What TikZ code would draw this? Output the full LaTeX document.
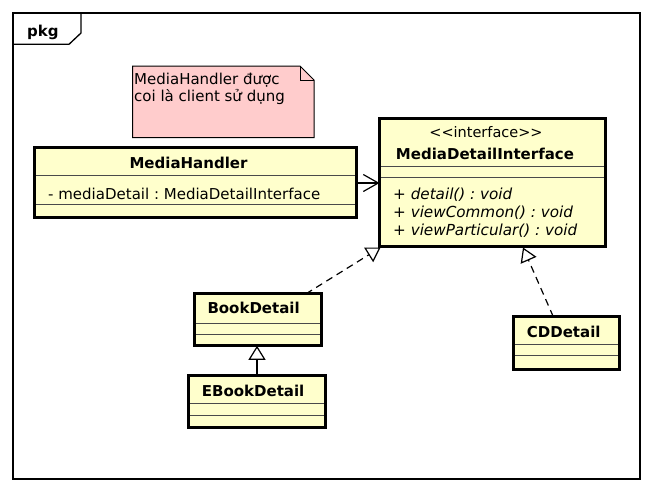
\documentclass[tikz,border=0pt]{standalone}
\usepackage{fontspec}
\setmainfont{DejaVu Sans}
\usetikzlibrary{arrows.meta,calc}
\definecolor{clsfill}{HTML}{FFFFCC}
\definecolor{notefill}{HTML}{FFCCCC}
\definecolor{seprule}{HTML}{4A4A4A}
\frenchspacing
\begin{document}
\begin{tikzpicture}[x=1pt,y=-1pt,
  cls/.style={draw=black,line width=3pt,fill=clsfill,inner sep=0pt,outer sep=0pt,rectangle},
  sepline/.style={draw=seprule,line width=1pt,shorten <=1.5pt,shorten >=1.5pt},
  txt/.style={inner sep=0pt,anchor=base west,font=\fontsize{15}{17}\selectfont},
  sttxt/.style={inner sep=0pt,anchor=base,font=\fontsize{14.5}{17}\selectfont},
  itxt/.style={txt,font=\fontsize{15.2}{17}\selectfont\itshape},
  btxt/.style={inner sep=0pt,anchor=base west,font=\fontsize{15}{18}\selectfont\bfseries},
  conn/.style={line width=1.2pt},
  realize/.style={conn,dash pattern=on 7pt off 5pt,-{Triangle[fill=white,length=14pt,width=17pt,line width=1.2pt]}},
  general/.style={conn,-{Triangle[fill=white,length=14pt,width=17pt,line width=1.2pt]}},
  assoc/.style={conn,-{Straight Barb[length=15pt,width=17pt,line width=1.2pt]}},
]
\useasboundingbox (0,0) rectangle (653,493);
\fill[white] (0,0) rectangle (653,493);

% package frame
\draw[line width=1.3pt] (13,13) rectangle (640,479);
\draw[line width=1.3pt] (13,13) -- (81,13) -- (81,33) -- (69,44.3) -- (13,44.3);
\node[btxt] (pkg) at (27,36) {pkg};

% note
\path[fill=notefill,draw=black,line width=1pt]
  (132.7,66) -- (300,66) -- (314,80) -- (314,137.7) -- (132.7,137.7) -- cycle;
\draw[line width=1pt] (300,66) -- (300,80) -- (314,80);
\node[txt] (note1) at (134,84) {MediaHandler được};
\node[txt] (note2) at (134,101) {coi là client sử dụng};

% classes
\node[cls,minimum width=322pt,minimum height=70pt] (mh) at (195.5,182.5) {};
\node[cls,minimum width=226pt,minimum height=127.5pt] (ifc) at (492.5,182.25) {};
\node[cls,minimum width=127.6pt,minimum height=52pt] (bd) at (258,319.8) {};
\node[cls,minimum width=136.4pt,minimum height=51.7pt] (eb) at (257,401.65) {};
\node[cls,minimum width=106pt,minimum height=53pt] (cd) at (566.2,343) {};

% compartments
\draw[sepline] (mh.west |- 0,175) -- (mh.east |- 0,175);
\draw[sepline] (mh.west |- 0,204) -- (mh.east |- 0,204);
\draw[sepline] (ifc.west |- 0,166) -- (ifc.east |- 0,166);
\draw[sepline] (ifc.west |- 0,177) -- (ifc.east |- 0,177);
\draw[sepline] (bd.west |- 0,323.3) -- (bd.east |- 0,323.3);
\draw[sepline] (bd.west |- 0,334) -- (bd.east |- 0,334);
\draw[sepline] (eb.west |- 0,403.3) -- (eb.east |- 0,403.3);
\draw[sepline] (eb.west |- 0,415) -- (eb.east |- 0,415);
\draw[sepline] (cd.west |- 0,344.3) -- (cd.east |- 0,344.3);
\draw[sepline] (cd.west |- 0,355.7) -- (cd.east |- 0,355.7);

% texts
\node[btxt,anchor=base] (mhname) at (188.5,168) {MediaHandler};
\node[txt] (mhattr) at (48,199) {- mediaDetail : MediaDetailInterface};
\node[sttxt] (ifcst) at (486,137.7) {<{}<interface>{}>};
\node[btxt,anchor=base] (ifcname) at (485,159) {MediaDetailInterface};
\node[itxt] (m1) at (393,199) {+ detail() : void};
\node[itxt] (m2) at (393,217) {+ viewCommon() : void};
\node[itxt] (m3) at (393,235) {+ viewParticular() : void};
\node[btxt] (bdname) at (207.3,313.3) {BookDetail};
\node[btxt] (ebname) at (201.7,396) {EBookDetail};
\node[btxt] (cdname) at (526.7,337) {CDDetail};

% connectors
\coordinate (bdR) at ($(bd.north)+(48,0)$);
\coordinate (ifcL) at ($(ifc.south west)+(1,1.5)$);
\coordinate (cdR) at ($(cd.north)+(-13,0)$);
\coordinate (ifcR) at ($(ifc.south)+(30.5,1.5)$);
\draw[assoc] (mh.east |- 0,183) -- (ifc.west |- 0,183);
\draw[realize] (bdR) -- (ifcL);
\draw[realize] (cdR) -- (ifcR);
\draw[general] (eb.north) -- (eb.north |- bd.south);
\end{tikzpicture}
\end{document}
